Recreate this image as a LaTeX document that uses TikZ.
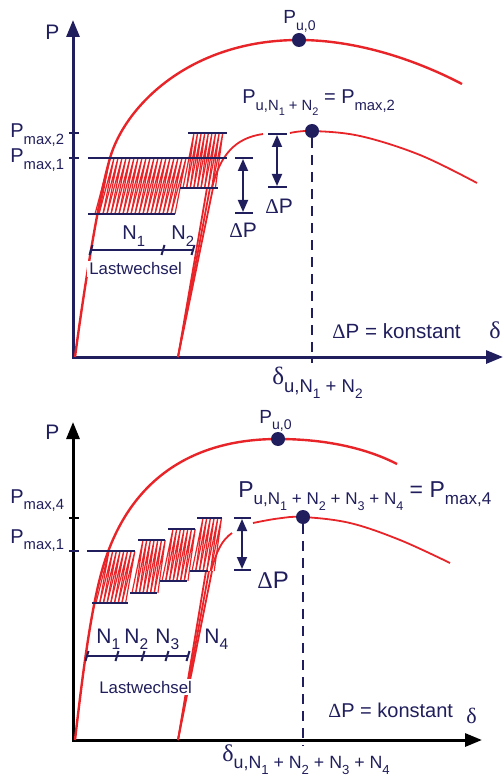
\documentclass[tikz,border=0pt]{standalone}
\usepackage{fontspec}
\usepackage{graphicx}
\setmainfont{Liberation Sans}
\newfontfamily\grk{Liberation Serif}
\usetikzlibrary{arrows.meta}
\definecolor{navy}{RGB}{32,30,92}
\definecolor{curvered}{RGB}{232,36,40}
\newcommand{\low}[1]{\raisebox{-0.33em}{\scalebox{0.74}{#1}}}

\begin{document}
\begin{tikzpicture}[
  x=0.5pt, y=-0.5pt,
  axis/.style={line width=1.5pt, {Triangle[width=6.5pt,length=8.5pt]}-{Triangle[width=6.5pt,length=8.5pt]}},
  env/.style={curvered, line width=1.2pt},
  envthin/.style={curvered, line width=0.9pt},
  hatch/.style={curvered, line width=0.6pt},
  bar/.style={navy, line width=1.2pt},
  dp/.style={navy, line width=0.9pt, {Triangle[width=5pt,length=6pt]}-{Triangle[width=5pt,length=6pt]}},
  vdash/.style={navy, line width=1pt, dash pattern=on 5pt off 3.5pt},
  dot/.style={circle, fill=navy, inner sep=0pt, minimum size=7pt},
  lbl/.style={text=navy, inner sep=0pt, anchor=base west, font=\fontsize{10}{11}\selectfont},
  lw/.style={lbl, fill=white, inner sep=1pt, font=\fontsize{8.4}{9}\selectfont},
  big/.style={lbl, font=\fontsize{10.5}{12}\selectfont}
]
\useasboundingbox (0,0) rectangle (503,780);

% ---------- upper diagram ----------
\draw[axis, navy] (73,20) -- (73,357) -- (503,357);
\node[big] (ylabA) at (45,40) {P};
\draw[bar] (69,133) -- (79,133);
\draw[bar] (69,158) -- (79,158);
\node[lbl] (pmaxA2) at (10,138) {P\low{max,2}};
\node[lbl] (pmaxA1) at (10,163) {P\low{max,1}};

% cycles N1 and N2
\foreach \i in {0,...,19}
  \draw[hatch] ({95+4*\i},214) -- ({110+4*\i},158) -- ({99+4*\i},214);
\foreach \i in {0,...,8}
  \draw[hatch] ({183+3.6*\i},188) -- ({194+3.6*\i},133) -- ({186.6+3.6*\i},188);

% envelope curves
\draw[env] (75,357) .. controls (83,297) and (97.5,201.5) .. (110,158)
  .. controls (125,106) and (190,40) .. (299,40)
  .. controls (360,40) and (420,62) .. (462,84);
\foreach \x in {207,210,213}
  \draw[envthin] (178,357) -- (\x,188);
\draw[envthin] (212,188) .. controls (220,155) and (235,138) .. (263,134);
\draw[envthin] plot[smooth, tension=0.6] coordinates {(290,133) (312,131) (360,136) (420,155) (477,183)};

\node[dot] (puA0) at (299,40) {};
\node[dot] (puA2) at (312,131) {};
\draw[vdash] (puA2) -- (312,363);

% load levels
\draw[bar] (88,158) -- (227,158);
\draw[bar] (88,214) -- (175,214);
\draw[bar] (188,133) -- (227,133);
\draw[bar] (180,188) -- (218,188);

% delta P
\draw[bar] (235,158) -- (253,158);
\draw[bar] (235,213) -- (253,213);
\draw[dp] (243,159) -- (243,212);
\draw[bar] (268,134) -- (287,134);
\draw[bar] (268,187) -- (287,187);
\draw[dp] (277,135) -- (277,186);
\node[lbl, font=\fontsize{10.5}{12}\selectfont] (dpA1) at (229,238) {{\grk Δ}P};
\node[lbl, font=\fontsize{10.5}{12}\selectfont] (dpA2) at (265,214) {{\grk Δ}P};

% Lastwechsel
\node[lw] (lwA) at (87,275) {Lastwechsel};
\draw[navy, line width=1pt] (91,250) -- (193,250);
\foreach \x in {91,163,193}
  \draw[navy, line width=1pt] ({\x-1.5},255) -- ({\x+1.5},245);
\node[lbl] (nA1) at (122,240) {N\low{1}};
\node[lbl] (nA2) at (171,240) {N\low{2}};

\node[lbl, font=\fontsize{9.5}{11}\selectfont] (puA0lbl) at (283,24) {P\low{u,0}};
\node[lbl] (puA2lbl) at (242,104) {P\low{u,N\low{1} + N\low{2}} = P\low{max,2}};
\node[lbl, font=\fontsize{10.3}{12}\selectfont] (konstA) at (332,338) {{\grk Δ}P = konstant};
\node[lbl, font=\fontsize{12}{13}\selectfont] (deltaA) at (489,338) {\grk δ};
\node[lbl, font=\fontsize{12.5}{14}\selectfont] (deltauA) at (272,384) {{\grk δ}\low{u,N\low{1} + N\low{2}}};

% ---------- lower diagram ----------
\draw[axis] (73,422) -- (73,740) -- (482,740);
\node[big] (ylabB) at (45,439) {P};
\draw[bar, black] (69,518) -- (79,518);
\draw[bar] (69,551) -- (79,551);
\node[lbl] (pmaxB4) at (10,503) {P\low{max,4}};
\node[lbl] (pmaxB1) at (10,543) {P\low{max,1}};

% cycles N1 ... N4
\foreach \xb/\xt/\yb/\yt/\n in {96/109/603/551/7, 132/143/593/540/6, 162/173/581/529/6, 192/203/571/518/5}
  \foreach \i in {0,...,\n}
    \draw[hatch] ({\xb+3.7*\i},\yb) -- ({\xt+3.7*\i},\yt) -- ({\xb+3.7+3.7*\i},\yb);

% envelope curves
\draw[env] (75,740) .. controls (82,680) and (90.4,609.8) .. (103,567)
  .. controls (128.2,481.5) and (190,439) .. (278,439)
  .. controls (330,439) and (370,450) .. (397,464);
\foreach \x in {206,209,212}
  \draw[envthin] (178,740) -- (\x,571);
\draw[envthin] (211,571) .. controls (217,550) and (222,540) .. (232,533);
\draw[envthin] plot[smooth, tension=0.6] coordinates {(253,523) (278,518.5) (303,517) (350,523) (400,540) (450,563)};

\node[dot] (puB0) at (278,439) {};
\node[dot] (puB4) at (303,517) {};
\draw[vdash] (puB4) -- (303,746);

% load levels
\draw[bar] (87,551) -- (135,551);
\draw[bar] (92,603) -- (128,603);
\draw[bar] (138,540) -- (165,540);
\draw[bar] (130,593) -- (157,593);
\draw[bar] (168,529) -- (195,529);
\draw[bar] (160,581) -- (187,581);
\draw[bar] (197,518) -- (222,518);
\draw[bar] (190,571) -- (208,571);

% delta P
\draw[bar] (234,518) -- (251,518);
\draw[bar] (234,570) -- (251,570);
\draw[dp] (242,519) -- (242,569);
\node[lbl, font=\fontsize{12}{13}\selectfont] (dpB) at (257,588) {{\grk Δ}P};

% Lastwechsel
\node[lw, font=\fontsize{8.4}{9}\selectfont] (lwB) at (97,693) {Lastwechsel};
\draw[navy, line width=1pt] (87,656) -- (188,656);
\foreach \x in {87,117,143,167,188}
  \draw[navy, line width=1pt] ({\x-1.5},661) -- ({\x+1.5},651);
\node[lbl, font=\fontsize{10.5}{11}\selectfont] (nB1) at (96,643) {N\low{1}};
\node[lbl, font=\fontsize{10.5}{11}\selectfont] (nB2) at (124,643) {N\low{2}};
\node[lbl, font=\fontsize{10.5}{11}\selectfont] (nB3) at (155,643) {N\low{3}};
\node[lbl, font=\fontsize{10.5}{11}\selectfont] (nB4) at (204,643) {N\low{4}};

\node[lbl, font=\fontsize{9.5}{11}\selectfont] (puB0lbl) at (259,423) {P\low{u,0}};
\node[lbl, font=\fontsize{11.5}{13}\selectfont] (puB4lbl) at (238,497) {P\low{u,N\low{1} + N\low{2} + N\low{3} + N\low{4}} = P\low{max,4}};
\node[lbl, font=\fontsize{10}{11}\selectfont] (konstB) at (328,717) {{\grk Δ}P = konstant};
\node[lbl, font=\fontsize{11}{12}\selectfont] (deltaB) at (466,723) {\grk δ};
\node[lbl, font=\fontsize{12}{13}\selectfont] (deltauB) at (222,761) {{\grk δ}\low{u,N\low{1} + N\low{2} + N\low{3} + N\low{4}}};
\end{tikzpicture}
\end{document}
